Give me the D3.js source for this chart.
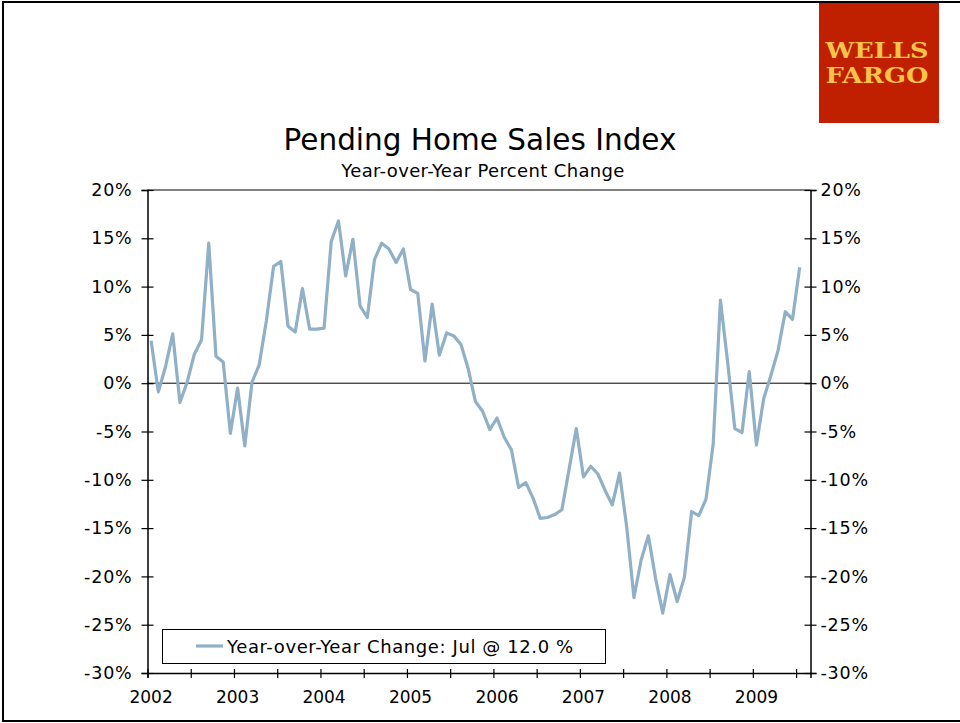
<!DOCTYPE html>
<html>
<head>
<meta charset="utf-8">
<script src="https://cdn.jsdelivr.net/npm/d3@7"></script>
<style>
  body { margin: 0; background: #fff; }
  svg { display: block; font-family: "DejaVu Sans", Verdana, sans-serif; }
</style>
</head>
<body>
<div id="chart"></div>
<script>
// Pending Home Sales Index, year-over-year % change, monthly Jan 2002 - Jul 2009

const yearLabels = ["2002", "2003", "2004", "2005", "2006", "2007", "2008", "2009"];
const yTicks = [20, 15, 10, 5, 0, -5, -10, -15, -20, -25, -30];
const legendLabel = "Year-over-Year Change: Jul @ 12.0 %";

const yoy2002 = [4.4, -0.9, 1.7, 5.1, -2.0, 0.1, 3.0, 4.5, 14.5, 2.8, 2.2, -5.2];
const yoy2003 = [-0.5, -6.5, 0.1, 1.9, 6.5, 12.1, 12.6, 5.9, 5.3, 9.8, 5.6, 5.6];
const yoy2004 = [5.7, 14.7, 16.8, 11.1, 14.9, 8.0, 6.8, 12.8, 14.5, 13.9, 12.5, 13.9];
const yoy2005 = [9.7, 9.3, 2.3, 8.2, 2.9, 5.2, 4.9, 4.0, 1.5, -1.9, -2.9, -4.8];
const yoy2006 = [-3.6, -5.6, -6.9, -10.8, -10.3, -11.9, -14.0, -13.9, -13.6, -13.1, -8.9, -4.7];
const yoy2007 = [-9.7, -8.6, -9.4, -11.1, -12.6, -9.3, -14.9, -22.2, -18.3, -15.8, -20.2, -23.8];
const yoy2008 = [-19.8, -22.6, -20.1, -13.3, -13.7, -12.0, -6.3, 8.6, 2.2, -4.7, -5.1, 1.2];
const yoy2009 = [-6.4, -1.6, 0.8, 3.4, 7.4, 6.6, 12.0];

const values = [].concat(yoy2002, yoy2003, yoy2004, yoy2005, yoy2006, yoy2007, yoy2008, yoy2009);

(function() {
  const width = 960, height = 723;
  const plotLeft = 147.5, plotRight = 810.5, plotTop = 190, plotBottom = 673;
  const nCats = 92; // monthly categories on the axis (one spare after Jul 2009)

  const svg = d3.select("#chart").append("svg")
    .attr("width", width)
    .attr("height", height);

  // page frame
  svg.append("rect")
    .attr("x", 3).attr("y", 2)
    .attr("width", width + 10).attr("height", 719)
    .attr("fill", "none").attr("stroke", "#000").attr("stroke-width", 2);

  // logo
  const logo = svg.append("g");
  logo.append("rect")
    .attr("x", 819).attr("y", 3).attr("width", 120).attr("height", 120)
    .attr("fill", "#c01f00");
  logo.selectAll("text")
    .data(["WELLS", "FARGO"])
    .join("text")
    .attr("x", 877)
    .attr("y", (d, i) => 57.5 + i * 25.5)
    .attr("text-anchor", "middle")
    .attr("font-family", "'DejaVu Serif', 'Liberation Serif', serif")
    .attr("font-weight", "bold")
    .attr("font-size", 22)
    .attr("textLength", 103)
    .attr("lengthAdjust", "spacingAndGlyphs")
    .attr("fill", "#f7c34a")
    .text(d => d);

  // titles
  svg.append("text")
    .attr("x", 480).attr("y", 150)
    .attr("text-anchor", "middle")
    .attr("font-size", 29.5)
    .attr("fill", "#000")
    .text("Pending Home Sales Index");
  svg.append("text")
    .attr("x", 483).attr("y", 177)
    .attr("text-anchor", "middle")
    .attr("font-size", 18)
    .attr("letter-spacing", 0.35)
    .attr("fill", "#000")
    .text("Year-over-Year Percent Change");

  const x = d3.scaleLinear().domain([0, nCats]).range([plotLeft, plotRight]);
  const y = d3.scaleLinear().domain([-30, 20]).range([plotBottom, plotTop]);

  // top border of plot area
  svg.append("line")
    .attr("x1", plotLeft).attr("x2", plotRight)
    .attr("y1", y(20)).attr("y2", y(20))
    .attr("stroke", "#808080").attr("stroke-width", 2);

  // zero line
  svg.append("line")
    .attr("x1", plotLeft).attr("x2", plotRight)
    .attr("y1", y(0)).attr("y2", y(0))
    .attr("stroke", "#000").attr("stroke-width", 1);

  const fmt = d => d + "%";

  // left axis
  const yLeft = svg.append("g")
    .attr("transform", `translate(${plotLeft},0)`)
    .call(d3.axisLeft(y).tickValues(yTicks).tickFormat(fmt).tickSize(6).tickPadding(9));
  yLeft.selectAll(".tick line").attr("x1", 6).attr("x2", -6);

  // right axis
  const yRight = svg.append("g")
    .attr("transform", `translate(${plotRight},0)`)
    .call(d3.axisRight(y).tickValues(yTicks).tickFormat(fmt).tickSize(6).tickPadding(4));
  yRight.selectAll(".tick line").attr("x1", -6).attr("x2", 6);

  // bottom axis: ticks every 6 months, labels at January
  const xTickVals = d3.range(0, nCats, 6);
  const xAxis = svg.append("g")
    .attr("transform", `translate(0,${plotBottom})`)
    .call(d3.axisBottom(x).tickValues(xTickVals).tickFormat("").tickSize(5));
  xAxis.selectAll(".tick line").attr("y1", -4).attr("y2", 5);

  svg.append("g")
    .selectAll("text")
    .data(yearLabels)
    .join("text")
    .attr("x", (d, i) => x(i * 12 + 0.5))
    .attr("y", 703)
    .attr("text-anchor", "middle")
    .attr("font-size", 17)
    .text(d => d);

  svg.selectAll(".domain").attr("stroke", "#000").attr("stroke-width", 1.5);
  svg.selectAll(".tick line").attr("stroke", "#000").attr("stroke-width", 1.2);
  svg.selectAll(".tick text").attr("font-size", 17.5).attr("fill", "#000")
    .attr("letter-spacing", 0.8)
    .attr("font-family", "'DejaVu Sans', Verdana, sans-serif");

  // series
  const line = d3.line()
    .x((d, i) => x(i + 0.5))
    .y(d => y(d));

  svg.append("path")
    .datum(values)
    .attr("fill", "none")
    .attr("stroke", "#8fb0c6")
    .attr("stroke-width", 3.2)
    .attr("stroke-linejoin", "round")
    .attr("d", line);

  // legend
  const legend = svg.append("g");
  legend.append("rect")
    .attr("x", 162.5).attr("y", 629.5).attr("width", 443).attr("height", 34)
    .attr("fill", "#fff").attr("stroke", "#000").attr("stroke-width", 1);
  legend.append("line")
    .attr("x1", 196).attr("x2", 223).attr("y1", 646).attr("y2", 646)
    .attr("stroke", "#8fb0c6").attr("stroke-width", 3.2);
  legend.append("text")
    .attr("x", 227).attr("y", 653)
    .attr("font-size", 18)
    .attr("letter-spacing", 0.6)
    .text(legendLabel);
})();
</script>
</body>
</html>
